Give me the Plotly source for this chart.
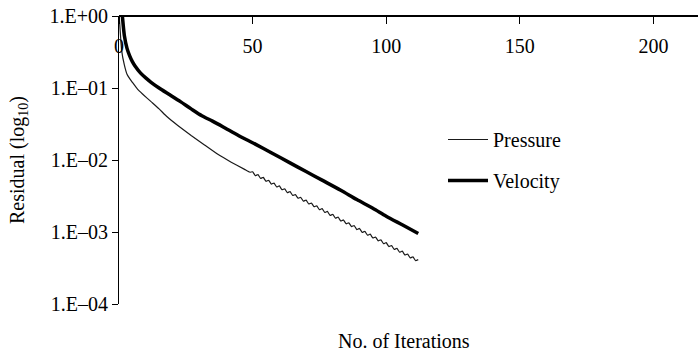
import plotly.graph_objects as go

# Residual history of the pressure and velocity equations
vel_iter = [0, 1, 2, 3, 4, 5, 6, 8, 10, 12, 15, 19, 23, 27, 31, 35, 39, 45, 51,
            57, 64, 70, 76, 83, 89, 95, 100, 106, 112]
vel_resid = [2.51, 1.26, 0.537, 0.355, 0.279, 0.232, 0.202, 0.162, 0.138, 0.120,
             0.100, 0.0804, 0.0646, 0.0513, 0.0412, 0.0347, 0.0288, 0.0216, 0.0166,
             0.0126, 0.00912, 0.00692, 0.00525, 0.00380, 0.00282, 0.00214, 0.00166,
             0.00126, 0.000955]

pres_iter = [0, 1, 2, 3, 4, 5, 7, 9, 12, 15, 18, 22, 27, 32, 37, 42, 47, 49] + list(range(50, 113))
pres_resid = [1.12, 0.331, 0.209, 0.155, 0.135, 0.120, 0.0955, 0.0813, 0.0646, 0.0513,
              0.0398, 0.0302, 0.0219, 0.0162, 0.0120, 0.00933, 0.00741, 0.00676,
              6.87e-3, 6.07e-3, 6.27e-3, 5.55e-3, 5.73e-3, 5.06e-3, 5.23e-3, 4.63e-3,
              4.78e-3, 4.22e-3, 4.37e-3, 3.86e-3, 3.99e-3, 3.52e-3, 3.64e-3, 3.22e-3,
              3.32e-3, 2.94e-3, 3.04e-3, 2.68e-3, 2.77e-3, 2.45e-3, 2.53e-3, 2.24e-3,
              2.31e-3, 2.04e-3, 2.11e-3, 1.87e-3, 1.93e-3, 1.70e-3, 1.76e-3, 1.56e-3,
              1.61e-3, 1.42e-3, 1.47e-3, 1.30e-3, 1.34e-3, 1.19e-3, 1.23e-3, 1.08e-3,
              1.12e-3, 9.89e-4, 1.02e-3, 9.03e-4, 9.34e-4, 8.25e-4, 8.53e-4, 7.54e-4,
              7.79e-4, 6.88e-4, 7.11e-4, 6.28e-4, 6.49e-4, 5.74e-4, 5.93e-4, 5.24e-4,
              5.42e-4, 4.79e-4, 4.95e-4, 4.37e-4, 4.52e-4, 3.99e-4, 4.13e-4]

x_ticks = [0, 50, 100, 150, 200]
y_ticks = [1, 0.1, 0.01, 0.001, 0.0001]
y_tick_text = ["1.E+00", "1.E\u201301", "1.E\u201302", "1.E\u201303", "1.E\u201304"]

FONT = "Liberation Serif, Times New Roman, serif"

fig = go.Figure()
fig.add_trace(go.Scatter(
    x=pres_iter, y=pres_resid, mode="lines", name="Pressure",
    line=dict(color="#1a1a1a", width=1.2, shape="spline", smoothing=0.4),
    legendgroup="p",
))
fig.add_trace(go.Scatter(
    x=vel_iter, y=vel_resid, mode="lines", name="Velocity",
    line=dict(color="black", width=3.5, shape="spline", smoothing=0.8),
    legendgroup="v",
))

fig.update_layout(
    width=698, height=353,
    margin=dict(l=119, r=0, t=16, b=49),
    paper_bgcolor="white", plot_bgcolor="white",
    font=dict(family=FONT, size=20, color="black"),
    showlegend=True,
    legend=dict(
        x=(443 - 119) / 579, y=(304 - 120) / 288, xanchor="left", yanchor="top",
        bgcolor="rgba(0,0,0,0)", font=dict(size=20), itemwidth=40,
        traceorder="grouped", tracegroupgap=12,
    ),
    xaxis=dict(
        range=[0, 216.7], anchor="free", position=1, side="bottom",
        tickmode="array", tickvals=x_ticks, ticks="outside", ticklen=7,
        tickcolor="black", tickwidth=1, showline=True, linecolor="black",
        linewidth=1.8, showgrid=False, zeroline=False,
        tickfont=dict(size=20, family=FONT), ticklabelstandoff=5,
    ),
    yaxis=dict(
        type="log", range=[-4, 0], tickmode="array", tickvals=y_ticks,
        ticktext=y_tick_text, ticks="outside", ticklen=6, tickcolor="black",
        tickwidth=1, showline=True, linecolor="black", linewidth=1,
        showgrid=False, zeroline=False, tickfont=dict(size=20, family=FONT),
    ),
    annotations=[
        dict(text="Residual (log<sub>10</sub>)", textangle=-90, xref="paper",
             yref="paper", x=(18 - 119) / 579, y=0.5, xanchor="center",
             yanchor="middle", showarrow=False, font=dict(size=20, family=FONT)),
        dict(text="No. of Iterations", xref="paper", yref="paper",
             x=(404 - 119) / 579, y=(304 - 341) / 288, xanchor="center",
             yanchor="middle", showarrow=False, font=dict(size=20, family=FONT)),
    ],
)

fig.write_html("out.html")
